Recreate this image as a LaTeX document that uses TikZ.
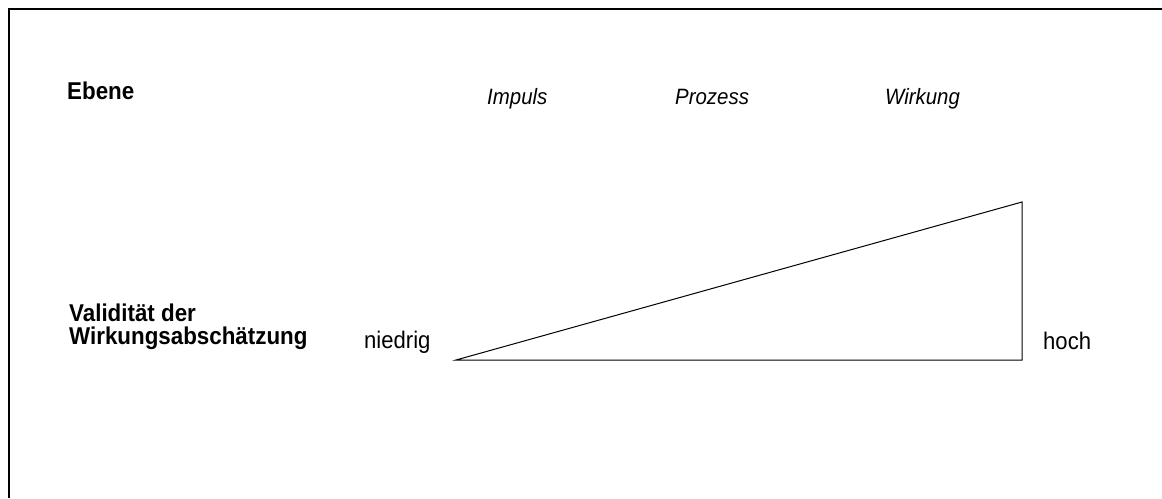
\documentclass[tikz,border=0pt]{standalone}
\usepackage{fontspec}
\setmainfont[FakeStretch=0.92]{Liberation Sans}
\begin{document}
\begin{tikzpicture}[x=1pt,y=-1pt,
  txt/.style={inner sep=0pt, anchor=base west, font=\fontsize{24}{28}\selectfont},
  txtbold/.style={txt, font=\fontsize{24.3}{28}\selectfont\bfseries},
  level/.style={txt, font=\fontsize{22.2}{26}\selectfont\itshape},
  frameline/.style={line width=2pt},
  wedge/.style={line width=1pt, line join=miter}]
\useasboundingbox (0,0) rectangle (1162,498);
% open frame along the top and left edges
\draw[frameline] (9,498) -- (9,9) -- (1162,9);

% header row
\node[txtbold] (ebene) at (67,99) {Ebene};
\node[level] (impuls) at (487,104) {Impuls};
\node[level] (prozess) at (675,104) {Prozess};
\node[level] (wirkung) at (885,104) {Wirkung};

% validity row
\node[txtbold] (valid1) at (69,321) {Validität der};
\node[txtbold] (valid2) at (69,344) {Wirkungsabschätzung};
\node[txt] (niedrig) at (364,348) {niedrig};
\node[txt] (hoch) at (1043,349) {hoch};

% rising wedge from low to high
\coordinate (low) at (456,360);
\coordinate (top) at (1022,202);
\coordinate (right) at (1022,360);
\draw[wedge] (low) -- (top) -- (right) -- cycle;
\end{tikzpicture}
\end{document}
